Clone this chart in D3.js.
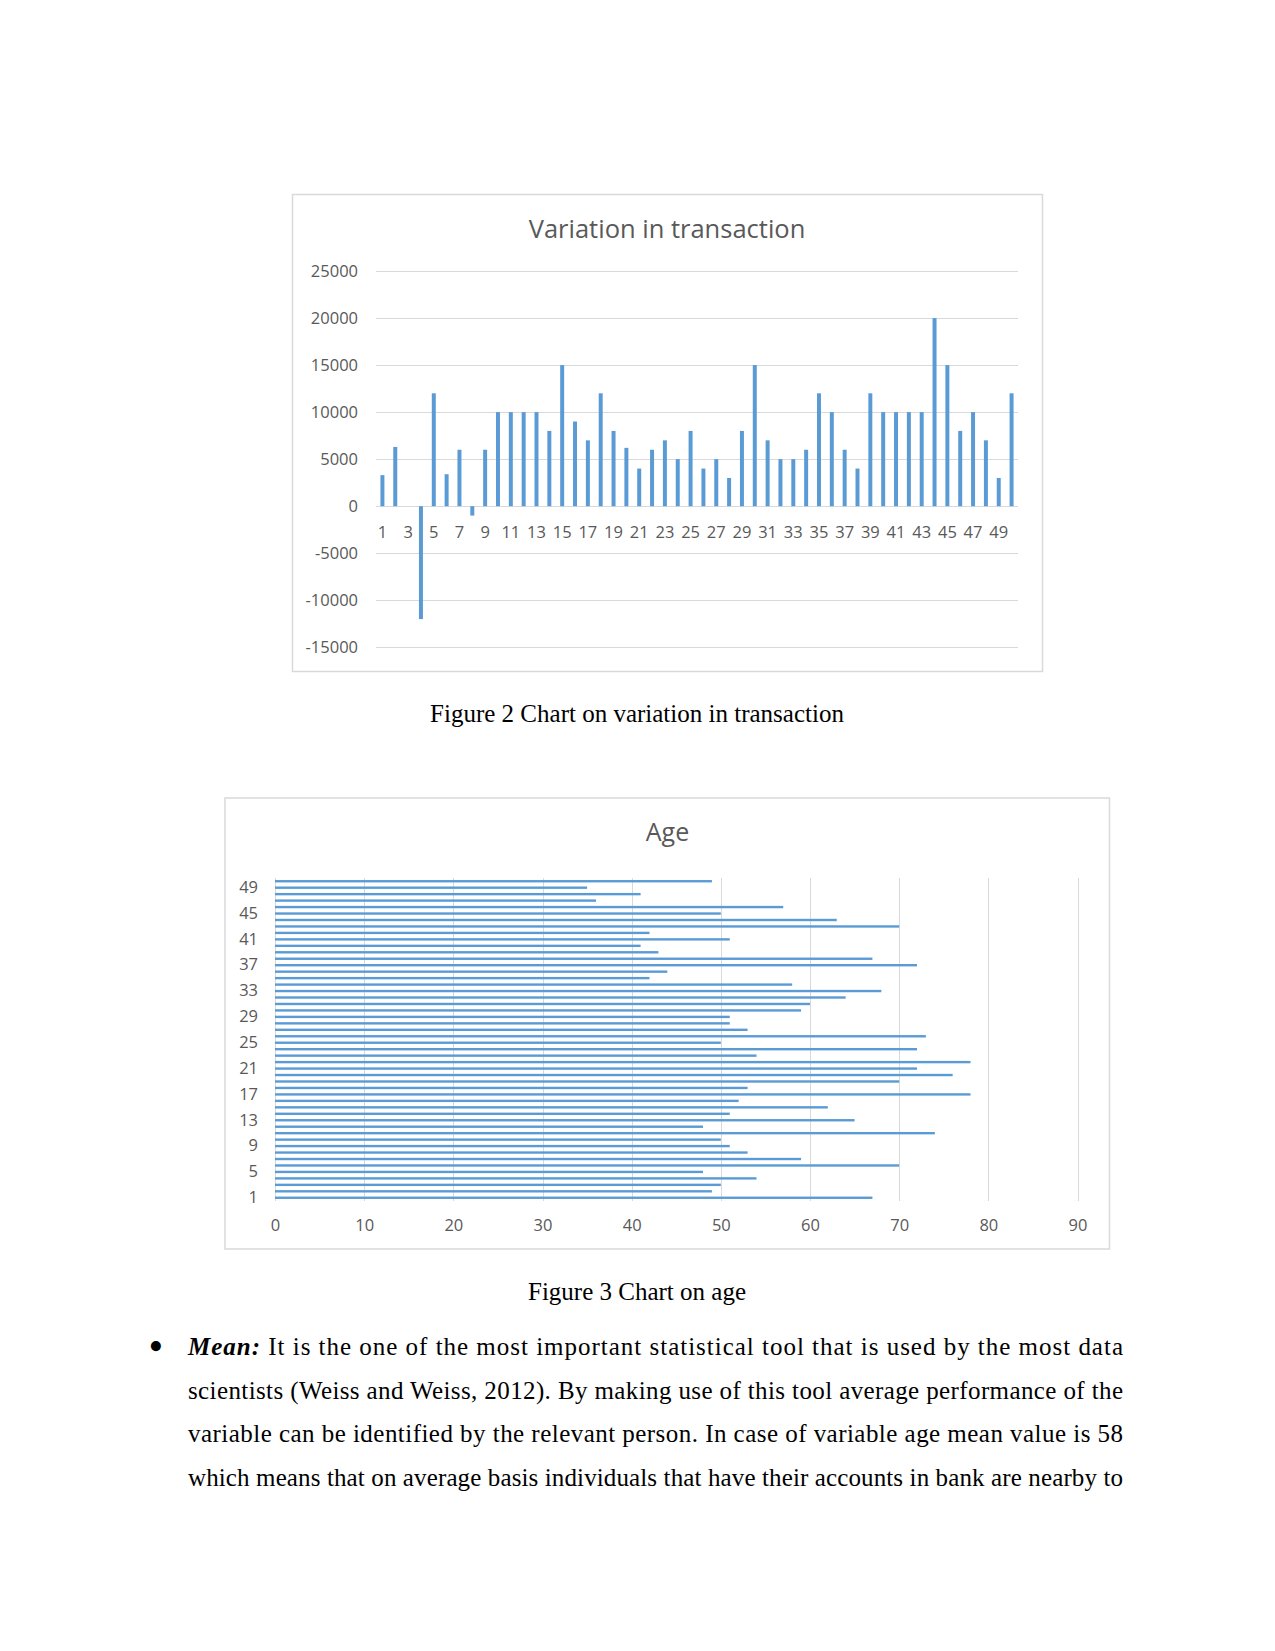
<!DOCTYPE html>
<html>
<head>
<meta charset="utf-8">
<script src="https://cdn.jsdelivr.net/npm/d3@7/dist/d3.min.js"></script>
<style>
  html, body { margin: 0; padding: 0; background: #fff; }
  svg { display: block; }
</style>
</head>
<body>
<div id="root"></div>
<script>
// ---------- Data ----------
const transCategories = d3.range(1, 51).map(String);
const transValues = [3300, 6300, 0, -12000, 12000, 3400, 6000, -1000, 6000, 10000,
  10000, 10000, 10000, 8000, 15000, 9000, 7000, 12000, 8000, 6200,
  4000, 6000, 7000, 5000, 8000, 4000, 5000, 3000, 8000, 15000,
  7000, 5000, 5000, 6000, 12000, 10000, 6000, 4000, 12000, 10000,
  10000, 10000, 10000, 20000, 15000, 8000, 10000, 7000, 3000, 12000];
const transYTicks = [-15000, -10000, -5000, 0, 5000, 10000, 15000, 20000, 25000];
const transXTickLabels = transCategories.filter((d, i) => i % 2 === 0);

const ageCategories = d3.range(1, 51).map(String);
const ageValues = [67, 49, 50, 54, 48, 70, 59, 53, 51, 50,
  74, 48, 65, 51, 62, 52, 78, 53, 70, 76,
  72, 78, 54, 72, 50, 73, 53, 51, 51, 59,
  60, 64, 68, 58, 42, 44, 72, 67, 43, 41,
  51, 42, 70, 63, 50, 57, 36, 41, 35, 49];
const ageXTicks = [0, 10, 20, 30, 40, 50, 60, 70, 80, 90];
const ageYTickLabels = ageCategories.filter((d, i) => i % 4 === 0);

const titles = ["Variation in transaction", "Age"];
const captions = ["Figure 2 Chart on variation in transaction", "Figure 3 Chart on age"];
const bodyLines = [
  ["Mean:", " It is the one of the most important statistical tool that is used by the most data"],
  ["", "scientists (Weiss and Weiss, 2012). By making use of this tool average performance of the"],
  ["", "variable can be identified by the relevant person. In case of variable age mean value is 58"],
  ["", "which means that on average basis individuals that have their accounts in bank are nearby to"]
];

// ---------- Styles ----------
const BAR = "#5B9BD5", GRID = "#D9D9D9", TXT = "#595959", BORDER = "#D9D9D9";
const CHART_FONT = "'Open Sans', 'Noto Sans', sans-serif";
const DOC_FONT = "'Liberation Serif', 'Times New Roman', serif";
const TICK_SIZE = 16.5;

const svg = d3.select("#root").append("svg")
  .attr("width", 1275).attr("height", 1651)
  .attr("viewBox", "0 0 1275 1651");

// ---------- Chart 1: Variation in transaction ----------
{
  const g = svg.append("g");
  g.append("rect").attr("x", 292.5).attr("y", 194.5).attr("width", 750).attr("height", 477)
    .attr("fill", "#fff").attr("stroke", BORDER).attr("stroke-width", 1.5);
  g.append("text").attr("x", 667).attr("y", 238).attr("text-anchor", "middle")
    .attr("font-family", CHART_FONT).attr("font-size", 25.5).attr("fill", TXT)
    .text(titles[0]);

  const x = d3.scaleBand().domain(transCategories).range([376, 1018]).paddingInner(0.69).paddingOuter(0.345);
  const y = d3.scaleLinear().domain([-15000, 25000]).range([647.3, 271]);

  // gridlines
  g.append("g").selectAll("line").data(transYTicks).join("line")
    .attr("x1", 376).attr("x2", 1018)
    .attr("y1", d => Math.round(y(d)) + 0.5).attr("y2", d => Math.round(y(d)) + 0.5)
    .attr("stroke", GRID).attr("stroke-width", 1);

  // y axis labels
  const yAxis = d3.axisLeft(y).tickValues(transYTicks).tickSize(0).tickPadding(0).tickFormat(d => String(d));
  const ya = g.append("g").attr("transform", "translate(358,0)").call(yAxis);
  ya.select(".domain").remove();
  ya.selectAll("text").attr("font-family", CHART_FONT).attr("font-size", TICK_SIZE).attr("fill", TXT);

  // bars
  g.append("g").selectAll("rect").data(transValues).join("rect")
    .attr("x", (d, i) => x(transCategories[i]))
    .attr("width", x.bandwidth())
    .attr("y", d => y(Math.max(0, d)))
    .attr("height", d => Math.abs(y(d) - y(0)))
    .attr("fill", BAR);

  // x axis labels (next to axis)
  const xAxis = d3.axisBottom(x).tickValues(transXTickLabels).tickSize(0).tickPadding(0);
  const xa = g.append("g").attr("transform", `translate(0,${y(0)})`).call(xAxis);
  xa.select(".domain").remove();
  xa.selectAll("text").attr("font-family", CHART_FONT).attr("font-size", TICK_SIZE).attr("fill", TXT)
    .attr("dy", "1.9em");
}

// ---------- Chart 2: Age ----------
{
  const g = svg.append("g");
  g.append("rect").attr("x", 225).attr("y", 798).attr("width", 884.5).attr("height", 451)
    .attr("fill", "#fff").attr("stroke", BORDER).attr("stroke-width", 1.5);
  g.append("text").attr("x", 667.5).attr("y", 841).attr("text-anchor", "middle")
    .attr("font-family", CHART_FONT).attr("font-size", 25).attr("fill", TXT)
    .text(titles[1]);

  const x = d3.scaleLinear().domain([0, 90]).range([275, 1077.5]);
  const y = d3.scaleBand().domain(ageCategories).range([1201, 878]).paddingInner(0.63).paddingOuter(0.315);

  g.append("g").selectAll("line").data(ageXTicks).join("line")
    .attr("x1", d => Math.round(x(d)) + 0.5).attr("x2", d => Math.round(x(d)) + 0.5)
    .attr("y1", 878).attr("y2", 1201)
    .attr("stroke", GRID).attr("stroke-width", 1);

  g.append("g").selectAll("rect").data(ageValues).join("rect")
    .attr("x", x(0))
    .attr("y", (d, i) => y(ageCategories[i]))
    .attr("height", y.bandwidth())
    .attr("width", d => x(d) - x(0))
    .attr("fill", BAR);

  const xAxis = d3.axisBottom(x).tickValues(ageXTicks).tickSize(0).tickPadding(0).tickFormat(d3.format("d"));
  const xa = g.append("g").attr("transform", "translate(0,1219)").call(xAxis);
  xa.select(".domain").remove();
  xa.selectAll("text").attr("font-family", CHART_FONT).attr("font-size", TICK_SIZE).attr("fill", TXT);

  const yAxis = d3.axisLeft(y).tickValues(ageYTickLabels).tickSize(0).tickPadding(0);
  const ya = g.append("g").attr("transform", "translate(258,0)").call(yAxis);
  ya.select(".domain").remove();
  ya.selectAll("text").attr("font-family", CHART_FONT).attr("font-size", TICK_SIZE).attr("fill", TXT);
}

// ---------- Captions ----------
svg.append("g").selectAll("text").data(captions).join("text")
  .attr("x", 637).attr("y", (d, i) => [722, 1300][i])
  .attr("text-anchor", "middle")
  .attr("font-family", DOC_FONT).attr("font-size", 25).attr("fill", "#000")
  .text(d => d);

// ---------- Body paragraph ----------
svg.append("text").attr("x", 148.5).attr("y", 1360)
  .attr("font-family", DOC_FONT).attr("font-size", 42).attr("fill", "#000").text("\u2022");

const body = svg.append("g");
bodyLines.forEach((ln, i) => {
  const t = body.append("text")
    .attr("x", 188).attr("y", 1355 + i * 43.5)
    .attr("font-family", DOC_FONT).attr("font-size", 25).attr("fill", "#000")
    .attr("textLength", 935).attr("lengthAdjust", "spacing")
    .attr("xml:space", "preserve");
  if (ln[0]) t.append("tspan").attr("font-weight", "bold").attr("font-style", "italic").text(ln[0]);
  t.append("tspan").text(ln[1]);
});
</script>
</body>
</html>
